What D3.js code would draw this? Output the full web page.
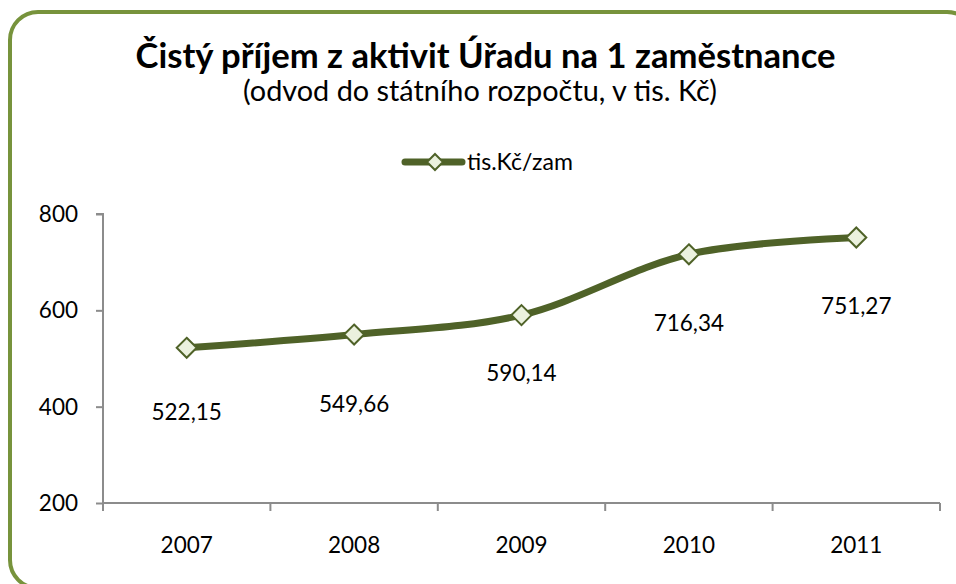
<!DOCTYPE html>
<html>
<head>
<meta charset="utf-8">
<script src="https://cdn.jsdelivr.net/npm/d3@7"></script>
<style>
  html, body { margin: 0; padding: 0; background: #fff; }
  svg { display: block; }
  text { font-family: Lato, "Open Sans", sans-serif; fill: #000; }
</style>
</head>
<body>
<svg id="chart" width="956" height="584"></svg>
<script>
// ---- data ----
const categories = ["2007", "2008", "2009", "2010", "2011"];
const values = [522.15, 549.66, 590.14, 716.34, 751.27];
const yTicks = [200, 400, 600, 800];
const seriesName = "tis.Kč/zam";
const titleText = "Čistý příjem z aktivit Úřadu na 1 zaměstnance";
const subtitleText = "(odvod do státního rozpočtu, v tis. Kč)";
// label vertical offsets (layout)
const labelOffsets = [64, 70, 58, 69, 69];

// ---- layout ----
const plot = { left: 103, right: 940, top: 214, bottom: 503 };
const lineColor = "#4F6228";
const markerFill = "#EBF1DE";
const axisColor = "#8C8C8C";
const borderColor = "#77933C";
const numSize = 22.5;

const svg = d3.select("#chart");

// border
svg.append("rect")
  .attr("x", 10).attr("y", 12)
  .attr("width", 965).attr("height", 576)
  .attr("rx", 28).attr("ry", 28)
  .attr("fill", "#fff")
  .attr("stroke", borderColor)
  .attr("stroke-width", 4);

function fitText(sel, targetWidth) {
  const node = sel.node();
  const fs = parseFloat(sel.attr("font-size"));
  const w = node.getComputedTextLength();
  if (w > 0) sel.attr("font-size", (fs * targetWidth / w).toFixed(2));
}

// title
const title = svg.append("text")
  .attr("x", 485.5).attr("y", 68)
  .attr("text-anchor", "middle")
  .attr("font-weight", "bold")
  .attr("font-size", 28)
  .text(titleText);
fitText(title, 700);

const subtitle = svg.append("text")
  .attr("x", 480).attr("y", 101)
  .attr("text-anchor", "middle")
  .attr("font-size", 22)
  .text(subtitleText);
fitText(subtitle, 474);

// scales
const x = d3.scaleBand().domain(categories).range([plot.left, plot.right]);
const y = d3.scaleLinear().domain([200, 800]).range([plot.bottom, plot.top]);

// y axis
const yAxis = d3.axisLeft(y).tickValues(yTicks).tickSize(7).tickPadding(18);
const gy = svg.append("g").attr("transform", `translate(${plot.left},0)`).call(yAxis);
gy.select(".domain").attr("stroke", axisColor).attr("stroke-width", 2)
  .attr("d", `M-7,${y(800)}H0V${y(200)}`);
gy.selectAll(".tick line").attr("stroke", axisColor).attr("stroke-width", 2);
gy.selectAll(".tick text").attr("font-size", numSize).attr("font-family", "Lato, sans-serif").attr("fill", "#000").attr("dy", "0.34em");

// x axis with boundary ticks
const gx = svg.append("g").attr("transform", `translate(0,${plot.bottom})`);
const boundaries = categories.map(c => x(c)).concat([x(categories[categories.length - 1]) + x.bandwidth()]);
gx.append("line").attr("x1", plot.left).attr("x2", plot.right).attr("y1", 0).attr("y2", 0)
  .attr("stroke", axisColor).attr("stroke-width", 2);
gx.selectAll("line.tk").data(boundaries).join("line").attr("class", "tk")
  .attr("x1", d => d).attr("x2", d => d).attr("y1", 0).attr("y2", 8)
  .attr("stroke", axisColor).attr("stroke-width", 2);
gx.selectAll("text").data(categories).join("text")
  .attr("x", d => x(d) + x.bandwidth() / 2)
  .attr("y", 50)
  .attr("text-anchor", "middle")
  .attr("font-size", numSize)
  .text(d => d);

// line
const pts = categories.map((c, i) => [x(c) + x.bandwidth() / 2, y(values[i])]);
const line = d3.line().curve(d3.curveCatmullRom.alpha(0.5));
svg.append("path")
  .attr("d", line(pts))
  .attr("fill", "none")
  .attr("stroke", lineColor)
  .attr("stroke-width", 7)
  .attr("stroke-linejoin", "round");

// markers
const diamond = (cx, cy, r) => `M${cx},${cy - r}L${cx + r},${cy}L${cx},${cy + r}L${cx - r},${cy}Z`;
svg.selectAll("path.mk").data(pts).join("path").attr("class", "mk")
  .attr("d", d => diamond(d[0], d[1], 10))
  .attr("fill", markerFill)
  .attr("stroke", lineColor)
  .attr("stroke-width", 2);

// data labels
const fmt = v => d3.format(".2f")(v).replace(".", ",");
svg.selectAll("text.lbl").data(values).join("text").attr("class", "lbl")
  .attr("x", (d, i) => pts[i][0])
  .attr("y", (d, i) => pts[i][1] + labelOffsets[i])
  .attr("dy", "0.35em")
  .attr("text-anchor", "middle")
  .attr("font-size", numSize)
  .text(d => fmt(d));

// legend
const lg = svg.append("g");
lg.append("line").attr("x1", 405).attr("x2", 462).attr("y1", 162).attr("y2", 162)
  .attr("stroke", lineColor).attr("stroke-width", 7).attr("stroke-linecap", "round");
lg.append("path").attr("d", diamond(435, 162, 8))
  .attr("fill", markerFill).attr("stroke", lineColor).attr("stroke-width", 2);
const lt = lg.append("text").attr("x", 467).attr("y", 162).attr("dy", "0.35em")
  .attr("font-size", numSize).text(seriesName);
fitText(lt, 106);
</script>
</body>
</html>
